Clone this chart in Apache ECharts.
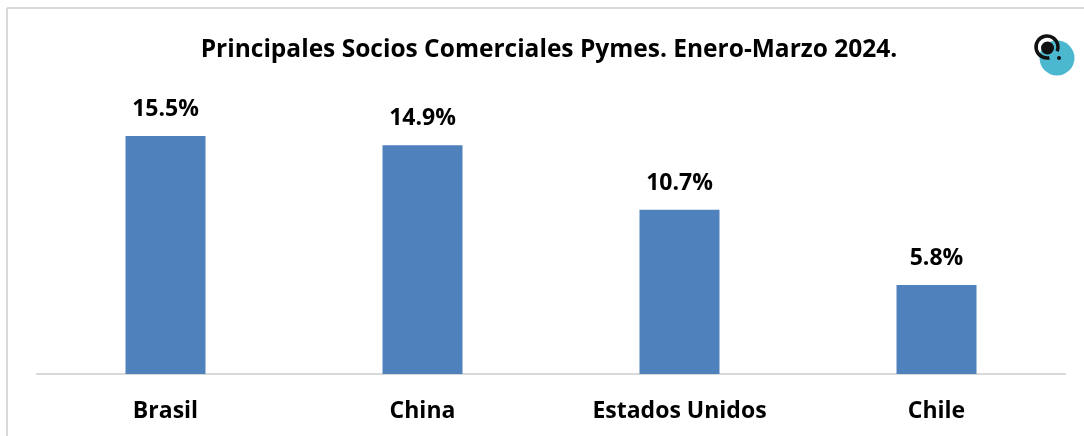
<!DOCTYPE html>
<html>
<head>
<meta charset="utf-8">
<script src="https://cdn.jsdelivr.net/npm/echarts@6/dist/echarts.min.js"></script>
<style>
  html, body { margin: 0; padding: 0; background: #fff; }
  #chart { width: 1084px; height: 436px; }
</style>
</head>
<body>
<div id="chart"></div>
<script>
// datos
const paises = ['Brasil', 'China', 'Estados Unidos', 'Chile']
const participacion = [15.5, 14.9, 10.7, 5.8]

const chart = echarts.init(document.getElementById('chart'))
const font = 'Open Sans'

chart.setOption({
    animation: false,
    title: {
        text: 'Principales Socios Comerciales Pymes. Enero-Marzo 2024.',
        left: 544,
        textAlign: 'center',
        top: 33,
        textStyle: { fontFamily: font, fontSize: 24.5, fontWeight: 'bold', color: '#000' }
    },
    grid: { left: 37, right: 19, top: 67, bottom: 62 },
    xAxis: {
        type: 'category',
        data: paises,
        axisTick: { show: false },
        axisLine: { lineStyle: { color: '#d9d9d9', width: 2 } },
        axisLabel: { margin: 26, fontFamily: font, fontSize: 23, fontWeight: 'bold', color: '#000' }
    },
    yAxis: {
        type: 'value',
        min: 0,
        max: 20,
        show: false,
        splitLine: { show: false }
    },
    series: [{
        type: 'bar',
        data: participacion,
        barWidth: 80,
        itemStyle: { color: '#4f81bd' },
        label: {
            show: true,
            position: 'top',
            distance: 15,
            formatter: p => p.value.toFixed(1) + '%',
            fontFamily: font,
            fontSize: 23,
            fontWeight: 'bold',
            color: '#000'
        }
    }],
    graphic: [
        // borde
        { type: 'line', shape: { x1: 7, y1: 8, x2: 1084, y2: 8 }, style: { stroke: '#d9d9d9', lineWidth: 2 } },
        { type: 'line', shape: { x1: 7, y1: 8, x2: 7, y2: 436 }, style: { stroke: '#d9d9d9', lineWidth: 2 } },
        // logo
        { type: 'circle', shape: { cx: 1057, cy: 58, r: 17.5 }, style: { fill: '#4bb8cf' } },
        { type: 'arc', shape: { cx: 1047, cy: 47, r: 11, startAngle: 1.35, endAngle: 0.4 + Math.PI * 2 }, style: { stroke: '#111', lineWidth: 3.5, fill: null } },
        { type: 'circle', shape: { cx: 1047.5, cy: 48, r: 6.5 }, style: { fill: '#111' } },
        { type: 'circle', shape: { cx: 1059, cy: 58, r: 2 }, style: { fill: '#111' } }
    ]
})
</script>
</body>
</html>
